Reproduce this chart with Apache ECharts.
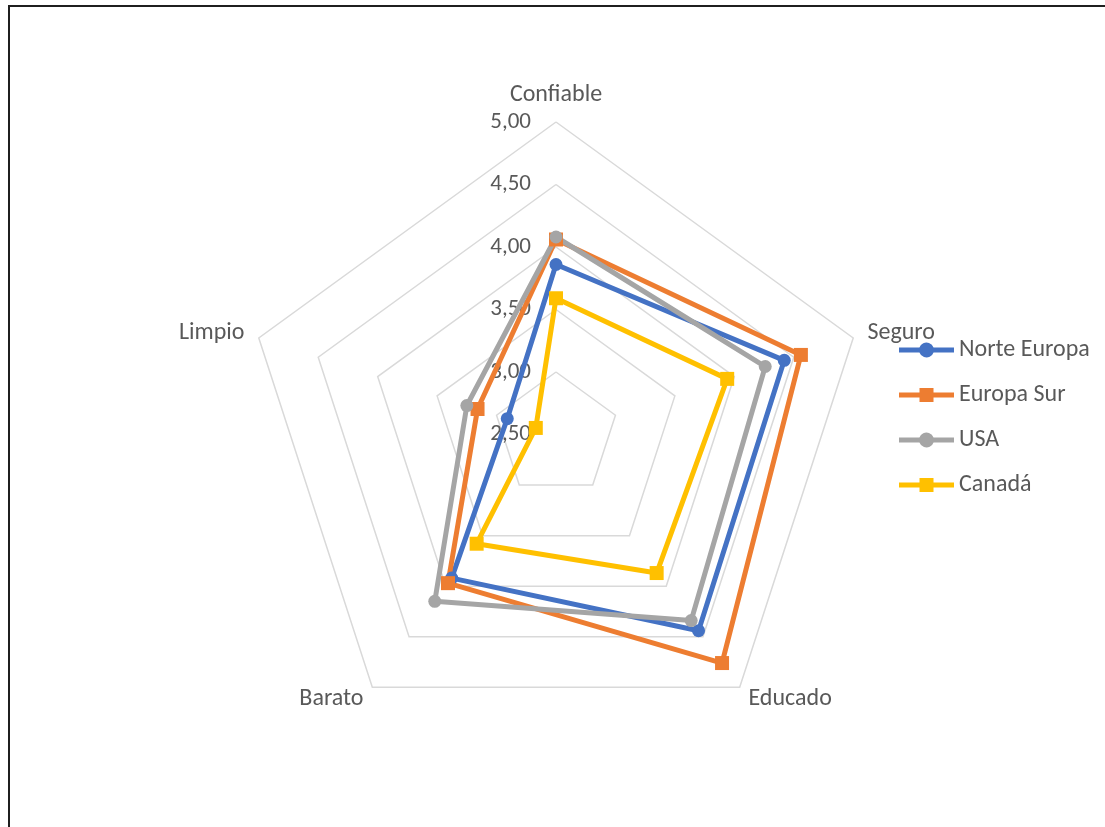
<!DOCTYPE html>
<html>
<head>
<meta charset="utf-8">
<title>Radar</title>
<script src="https://cdn.jsdelivr.net/npm/echarts@6/dist/echarts.min.js"></script>
<style>
  html, body { margin: 0; padding: 0; background: #ffffff; overflow: hidden; }
  #frame {
    position: absolute; left: 8px; top: 5px; width: 1200px; height: 900px;
    border-left: 2px solid #1f1f1f; border-top: 2px solid #1f1f1f;
  }
  #chart { position: absolute; left: 0; top: 0; width: 1105px; height: 827px; }
</style>
</head>
<body>
<div id="frame"></div>
<div id="chart"></div>
<script>
// Attributes, listed clockwise starting at the top
const categories = ['Confiable', 'Seguro', 'Educado', 'Barato', 'Limpio'];

// Average score per region, same order as categories
const norteEuropa = [3.86, 4.42, 4.44, 3.92, 2.91];
const europaSur   = [4.06, 4.56, 4.76, 3.97, 3.16];
const usa         = [4.08, 4.26, 4.34, 4.15, 3.25];
const canada      = [3.59, 3.94, 3.87, 3.58, 2.67];

const seriesNames = ['Norte Europa', 'Europa Sur', 'USA', 'Canadá'];
const seriesValues = [norteEuropa, europaSur, usa, canada];
const seriesColors = ['#4472C4', '#ED7D31', '#A5A5A5', '#FFC000'];
const seriesSymbols = ['circle', 'rect', 'circle', 'rect'];

const axisMin = 2.5;
const axisMax = 5;
const axisSplits = 5;

const textColor = '#595959';
const fontFamily = 'Carlito, Lato, "Liberation Sans", sans-serif';

// ECharts lays indicators out counter-clockwise from the top; reorder to run clockwise
const order = [0, 4, 3, 2, 1];

const indicators = order.map(function (i, k) {
  const ind = { name: categories[i], min: axisMin, max: axisMax };
  if (k === 0) {
    ind.axisLabel = {
      show: true,
      showMinLabel: true,
      showMaxLabel: true,
      margin: 25,
      color: textColor,
      fontSize: 23,
      fontFamily: fontFamily,
      formatter: function (v) { return v.toFixed(2).replace('.', ','); }
    };
  }
  return ind;
});

// Legend icons: a thick line with the series marker in the middle
const iconCircle = 'path://M0 5H20.43A7.5 7.5 0 0 1 34.57 5H55V10H34.57A7.5 7.5 0 0 1 20.43 10H0Z';
const iconSquare = 'path://M0 5H20.5V0.5H34.5V5H55V10H34.5V14.5H20.5V10H0Z';

const series = seriesNames.map(function (name, s) {
  return {
    type: 'radar',
    name: name,
    symbol: seriesSymbols[s],
    symbolSize: seriesSymbols[s] === 'rect' ? 14 : 13,
    lineStyle: { color: seriesColors[s], width: 5 },
    itemStyle: { color: seriesColors[s], borderWidth: 0 },
    emphasis: { disabled: true },
    data: [{
      name: name,
      value: order.map(function (i) { return seriesValues[s][i]; })
    }]
  };
});

const chart = echarts.init(document.getElementById('chart'), null, { renderer: 'canvas' });
chart.setOption({
  animation: false,
  backgroundColor: 'transparent',
  textStyle: { fontFamily: fontFamily },
  legend: {
    orient: 'vertical',
    left: 899,
    top: 338,
    padding: 0,
    itemWidth: 55,
    itemHeight: 15,
    itemGap: 21,
    selectedMode: false,
    itemStyle: { borderWidth: 0 },
    textStyle: { color: textColor, fontSize: 24, fontFamily: fontFamily, lineHeight: 24 },
    data: seriesNames.map(function (n, s) {
      return { name: n, icon: seriesSymbols[s] === 'rect' ? iconSquare : iconCircle };
    })
  },
  radar: {
    center: [556, 434.5],
    radius: 312.5,
    startAngle: 90,
    shape: 'polygon',
    splitNumber: axisSplits,
    nameGap: 15,
    axisName: { color: textColor, fontSize: 24, fontFamily: fontFamily },
    axisLine: { show: false },
    axisTick: { show: false },
    axisLabel: { show: false },
    splitArea: { show: false },
    splitLine: { lineStyle: { color: '#D9D9D9', width: 1.5 } },
    indicator: indicators
  },
  series: series
});
</script>
</body>
</html>
